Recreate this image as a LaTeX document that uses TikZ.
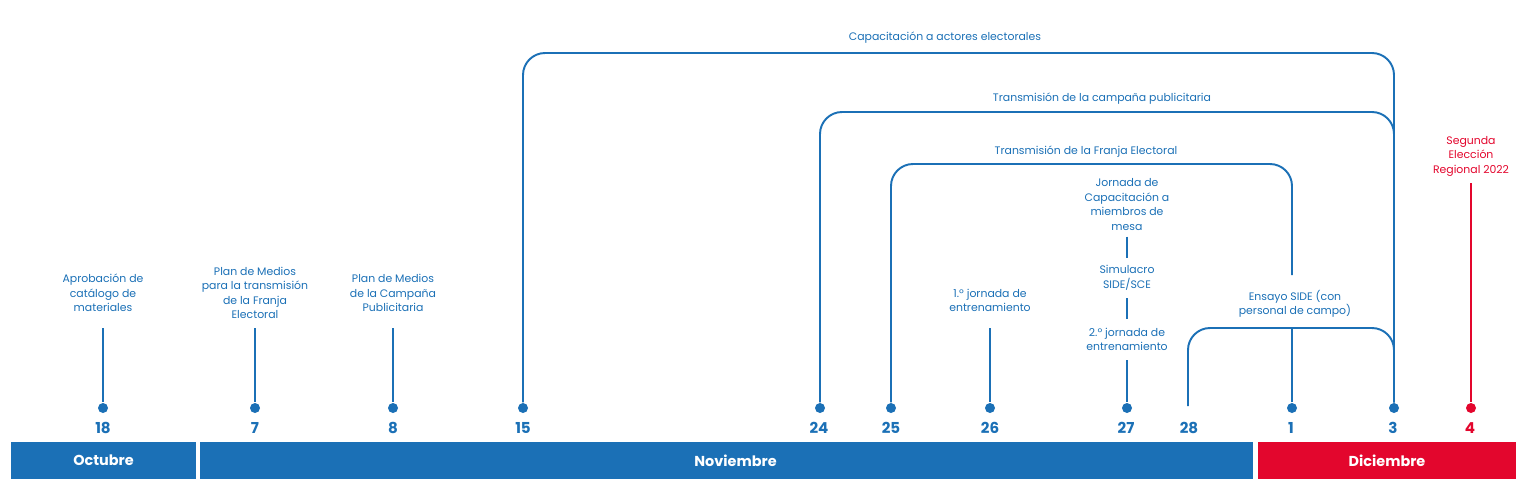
\documentclass[tikz,border=0pt]{standalone}
\usepackage{fontspec}
\setmainfont{Poppins}
\usetikzlibrary{positioning}
\definecolor{ineblue}{RGB}{27,112,182}
\definecolor{inered}{RGB}{227,6,45}

\begin{document}
\begin{tikzpicture}[
    x=0.1mm, y=-0.1mm,
    dot/.style={circle, fill=ineblue, inner sep=0pt, minimum size=1mm},
    day/.style={font=\fontsize{4.3}{5}\selectfont\bfseries, text=ineblue},
    txt/.style={font=\fontsize{3.1}{4.12}\selectfont, text=ineblue, align=center, inner sep=0pt},
    lab/.style={txt, anchor=south, outer ysep=1.6mm},
    month/.style={fill=ineblue, text=white, font=\fontsize{4.1}{5}\selectfont\bfseries, minimum height=3.7mm, inner sep=0pt},
    link/.style={ineblue, line width=0.55pt},
    arc/.style={link, rounded corners=2.2mm}
]
\useasboundingbox (0,0) rectangle (1525,490);

% Meses
\node[month, minimum width=18.5mm] (oct) at (103.5,460.5) {Octubre};
\node[month, minimum width=105.3mm] (nov) at (726.5,460.5) {\hspace*{1.8mm}Noviembre};
\node[month, minimum width=25.8mm, fill=inered] (dic) at (1387,460.5) {Diciembre};

% Fechas
\node[dot] (d18) at (103,408) {};
\node[dot] (d7) at (255,408) {};
\node[dot] (d8) at (393,408) {};
\node[dot] (d15) at (523,408) {};
\node[dot] (d24) at (820,408) {};
\node[dot] (d25) at (891,408) {};
\node[dot] (d26) at (990,408) {};
\node[dot] (d27) at (1127,408) {};
\node[dot] (d1) at (1292,408) {};
\node[dot] (d3) at (1394,408) {};
\node[dot, fill=inered] (d4) at (1471,408) {};
\coordinate (c28) at (1188,406);

\node[day] (n18) at (103,428) {18};
\node[day] (n7) at (255,428) {7};
\node[day] (n8) at (393,428) {8};
\node[day] (n15) at (523,428) {15};
\node[day] (n24) at (819,428) {24};
\node[day] (n25) at (891,428) {25};
\node[day] (n26) at (990,428) {26};
\node[day] (n27) at (1126,428) {27};
\node[day] (n28) at (1189,428) {28};
\node[day] (n1) at (1291,428) {1};
\node[day] (n3) at (1393,428) {3};
\node[day, text=inered] (n4) at (1470,428) {4};

% Hitos
\node[lab] (aprob) at (103,328) {Aprobación de\\catálogo de\\materiales};
\node[lab, outer ysep=0.9mm] (pmfranja) at (255,328) {Plan de Medios\\para la transmisión\\de la Franja\\Electoral};
\node[lab] (pmcamp) at (393,328) {Plan de Medios\\de la Campaña\\Publicitaria};
\node[lab] (jor1) at (990,328) {1.º jornada de\\entrenamiento};
\node[lab, outer ysep=0.9mm] (jor2) at (1127,360) {2.º jornada de\\entrenamiento};
\node[txt, outer ysep=0.8mm, above=2.1mm of jor2] (simu) {Simulacro\\SIDE/SCE};
\node[txt, outer ysep=0.6mm, above=2.1mm of simu] (capmm) {Jornada de\\Capacitación a\\miembros de\\mesa};
\node[lab, outer ysep=0.7mm, text=inered] (eleccion) at (1471,183) {Segunda\\Elección\\Regional 2022};

% Periodos
\node[txt] (capact) at (945,38) {Capacitación a actores electorales};
\node[txt] (campana) at (1102,99) {Transmisión de la campaña publicitaria};
\node[txt] (franja) at (1086,152) {Transmisión de la Franja Electoral};
\node[txt] (ensayo) at (1295,304) {Ensayo SIDE (con\\personal de campo)};
\coordinate (captop) at (945,53);
\coordinate (camptop) at (1102,112);
\coordinate (frantop) at (1086,164);
\coordinate (franend) at (1292,275);
\coordinate (enstop) at (1292,328);

% Conexiones
\draw[link] (aprob) -- (d18);
\draw[link] (pmfranja) -- (d7);
\draw[link] (pmcamp) -- (d8);
\draw[link] (jor1) -- (d26);
\draw[link] (jor2) -- (d27);
\draw[link] (simu) -- (jor2);
\draw[link] (capmm) -- (simu);
\draw[link, inered] (eleccion) -- (d4);
\draw[arc] (d15) |- (captop) -| (d3);
\draw[arc] (d24) |- (camptop) -| (d3);
\draw[arc] (d25) |- (frantop) -| (franend);
\draw[arc] (c28) |- (enstop) -| (d3);
\draw[link] (d1) -- (enstop);

\end{tikzpicture}
\end{document}
